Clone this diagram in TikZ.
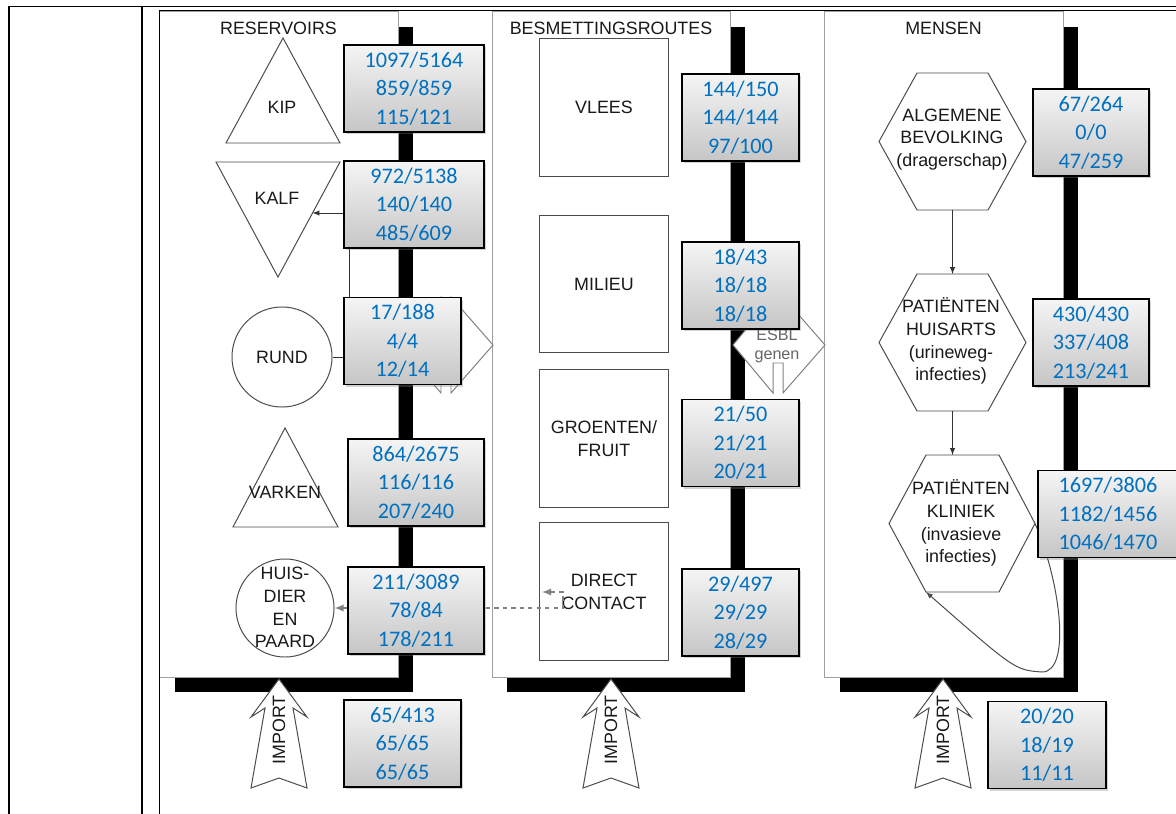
\documentclass[tikz,border=0pt]{standalone}
\usepackage{fontspec}
\setmainfont{Liberation Sans}
\newfontfamily\numfont{Carlito}
\usepackage{tikz}
\usetikzlibrary{shapes.geometric, arrows, shadows}
\definecolor{numblue}{RGB}{0,112,192}
\definecolor{linegray}{RGB}{75,75,75}
\definecolor{textgray}{RGB}{25,25,25}
\tikzstyle{panel} = [rectangle, draw=gray!75, line width=0.7pt, fill=white, minimum width=5.95cm, minimum height=16.625cm, general shadow={fill=black, shadow xshift=0.37cm, shadow yshift=-0.37cm}]
\tikzstyle{numbox} = [rectangle, draw=black, line width=0.9pt, top color=gray!8, bottom color=gray!45, minimum height=2.175cm, inner sep=0pt, align=center, text=numblue, font=\numfont\fontsize{15.8}{20.2}\selectfont, drop shadow={shadow xshift=1.5pt, shadow yshift=-1.5pt, opacity=0.35}]
\tikzstyle{lbl} = [align=center, text=textgray, font=\fontsize{12.7}{16.2}\selectfont, inner sep=0pt]
\tikzstyle{shapeline} = [draw=linegray, line width=0.7pt, fill=white]
\tikzstyle{square} = [shapeline, rectangle, minimum width=3.2cm, minimum height=3.425cm, align=center, text=textgray, font=\fontsize{12.7}{16.2}\selectfont]
\tikzstyle{arrow} = [draw=black!80, line width=0.7pt, ->, >=latex]
\tikzstyle{dasharrow} = [draw=gray, line width=1.2pt, dashed, <->, >=latex]

\begin{document}
\begin{tikzpicture}[x=0.025cm, y=-0.025cm]
	\useasboundingbox (0,0) rectangle (1176,814);
	% Panels (with black shadow)
	\node[panel] (reservoirs) at (279,344.5) {};
	\node[panel] (routes) at (611.5,344.5) {};
	\node[panel] (mensen) at (944,344.5) {};
	\node[lbl] (reservoirstitle) at (278.5,28.5) {RESERVOIRS};
	\node[lbl] (routestitle) at (611,28.5) {BESMETTINGSROUTES};
	\node[lbl] (mensentitle) at (943.5,28.5) {MENSEN};
	% Reservoirs
	\draw[shapeline] (226,143) -- (283,38) -- (340,143) -- cycle;
	\draw[shapeline] (216,162) -- (340,162) -- (278,277) -- cycle;
	\draw[shapeline] (233,527) -- (285,428) -- (338,527) -- cycle;
	\node[lbl] (kip) at (282,107) {KIP};
	\node[lbl] (kalf) at (277,198.5) {KALF};
	\node[lbl] (varken) at (285,492) {VARKEN};
	\node[shapeline, circle, minimum size=2.5cm] (rund) at (282,357) {};
	\node[lbl] (rundtxt) at (rund) {RUND};
	\node[shapeline, circle, minimum size=2.45cm] (huisdier) at (285,608) {};
	\node[lbl, font=\fontsize{12.7}{16.1}\selectfont] (huisdiertxt) at (285,607.5) {HUIS-\\DIER\\EN\\PAARD};
	\coordinate (kalfedge) at (312.5,213);
	\coordinate (kalfbend) at (349,213);
	\draw[arrow] (rund.east) -| (kalfbend) -- (kalfedge);
	% Besmettingsroutes
	\node[square] (vlees) at (604,107.5) {VLEES};
	\node[square] (milieu) at (604,284) {MILIEU};
	\node[square] (groenten) at (604,438.5) {GROENTEN/\\FRUIT};
	\node[square] (direct) at (604,591.5) {DIRECT\\CONTACT};
	\coordinate (directhook) at (563,608);
	\coordinate (directend) at (542,592);
	\draw[dasharrow] (huisdier.east) -- (directhook) |- (directend);
	% Mensen
	\draw[shapeline] (879,141.5) -- (917,73) -- (988,73) -- (1026,141.5) -- (988,210) -- (917,210) -- cycle;
	\draw[shapeline] (879,342.5) -- (917,274) -- (988,274) -- (1026,342.5) -- (988,411) -- (917,411) -- cycle;
	\draw[shapeline] (889,523.5) -- (926,455) -- (999,455) -- (1035,523.5) -- (999,592) -- (926,592) -- cycle;
	\node[lbl] (algemeen) at (952,139.5) {ALGEMENE\\BEVOLKING\\(dragerschap)};
	\node[lbl] (huisarts) at (951,341) {PATIËNTEN\\HUISARTS\\(urineweg-\\infecties)};
	\node[lbl] (kliniek) at (961,523) {PATIËNTEN\\KLINIEK\\(invasieve\\infecties)};
	\coordinate (algbottom) at (952.5,210);
	\coordinate (huisartstop) at (952.5,274);
	\coordinate (huisartsbottom) at (952.5,411);
	\coordinate (kliniektop) at (952.5,455);
	\coordinate (kliniekeast) at (1035,523.5);
	\coordinate (kliniekcorner) at (926,592);
	\draw[arrow] (algbottom) -- (huisartstop);
	\draw[arrow] (huisartsbottom) -- (kliniektop);
	\draw[arrow, draw=linegray] (kliniekeast) .. controls (1060,580) and (1072,672) .. (1042,672) .. controls (1015,670) .. (kliniekcorner);
	% ESBL genen arrows
	\draw[shapeline, draw=gray] (400,345) -- (441,297) -- (441,327) -- (451,327) -- (451,297) -- (493,345) -- (451,393) -- (451,363) -- (441,363) -- (441,393) -- cycle;
	\draw[shapeline, draw=gray] (733,345) -- (773,297) -- (773,327) -- (783,327) -- (783,297) -- (825,345) -- (783,393) -- (783,363) -- (773,363) -- (773,393) -- cycle;
	\node[lbl, text=gray!80!black, font=\fontsize{11.5}{13.5}\selectfont] (esbl) at (777,346) {ESBL\\genen};
	% Import arrows
	\draw[shapeline] (279,679) -- (307,717) -- (293,708) -- (307,788) -- (279,778) -- (251,788) -- (265,708) -- (251,717) -- cycle;
	\draw[shapeline] (611,679) -- (639,717) -- (625,708) -- (639,788) -- (611,778) -- (583,788) -- (597,708) -- (583,717) -- cycle;
	\draw[shapeline] (943,679) -- (971,717) -- (957,708) -- (971,788) -- (943,778) -- (915,788) -- (929,708) -- (915,717) -- cycle;
	\node[lbl, rotate=90] (import1) at (279,730) {IMPORT};
	\node[lbl, rotate=90] (import2) at (611,730) {IMPORT};
	\node[lbl, rotate=90] (import3) at (943,730) {IMPORT};
	% Numbers
	\node[numbox, minimum width=3.5cm] (kipnum) at (414,88.5) {1097/5164\\859/859\\115/121};
	\node[numbox, minimum width=3.5cm] (kalfnum) at (414,204.5) {972/5138\\140/140\\485/609};
	\node[numbox, minimum width=2.925cm] (rundnum) at (402.5,341) {17/188\\4/4\\12/14};
	\node[numbox, minimum width=3.4cm] (varkennum) at (416,482.5) {864/2675\\116/116\\207/240};
	\node[numbox, minimum width=3.4cm] (huisdiernum) at (416,610.5) {211/3089\\78/84\\178/211};
	\node[numbox, minimum width=2.925cm] (import1num) at (402.5,743.5) {65/413\\65/65\\65/65};
	\node[numbox, minimum width=2.925cm] (vleesnum) at (740.5,117.5) {144/150\\144/144\\97/100};
	\node[numbox, minimum width=2.925cm] (milieunum) at (740.5,285.5) {18/43\\18/18\\18/18};
	\node[numbox, minimum width=2.925cm] (groentennum) at (740.5,443) {21/50\\21/21\\20/21};
	\node[numbox, minimum width=2.925cm] (directnum) at (740.5,612.5) {29/497\\29/29\\28/29};
	\node[numbox, minimum width=2.9cm] (algemeennum) at (1091,132.5) {67/264\\0/0\\47/259};
	\node[numbox, minimum width=2.9cm] (huisartsnum) at (1091,342.5) {430/430\\337/408\\213/241};
	\node[numbox, minimum width=3.5cm] (klinieknum) at (1108,514) {1697/3806\\1182/1456\\1046/1470};
	\node[numbox, minimum width=2.95cm] (import3num) at (1047,745) {20/20\\18/19\\11/11};
	% Table lines
	\draw[line width=1.4pt] (9,6.5) -- (1176,6.5);
	\draw[line width=0.9pt] (159,10.5) -- (1176,10.5);
	\draw[line width=1.4pt] (9,6) -- (9,814);
	\draw[line width=1.4pt] (142,6) -- (142,814);
	\draw[line width=1pt] (159.5,10) -- (159.5,814);
\end{tikzpicture}
\end{document}
